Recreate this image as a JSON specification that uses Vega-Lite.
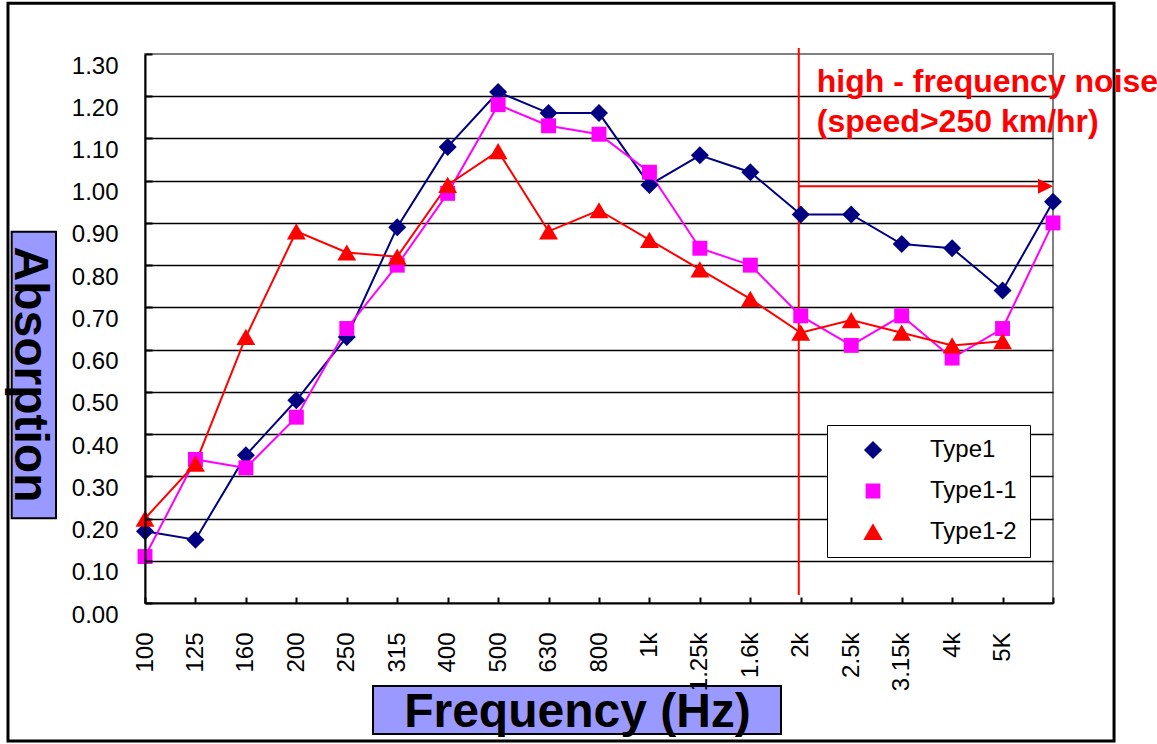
{
  "$schema": "https://vega.github.io/schema/vega-lite/v6.json",
  "width": 908,
  "height": 549,
  "autosize": {"type": "none"},
  "padding": {"left": 145, "top": 54, "right": 104, "bottom": 141},
  "background": "white",
  "config": {
    "font": "Liberation Sans",
    "view": {"stroke": "#808080", "strokeWidth": 2}
  },
  "datasets": {
    "absorption": [
      {"i": 0, "series": "Type1", "a": 0.17},
      {"i": 1, "series": "Type1", "a": 0.15},
      {"i": 2, "series": "Type1", "a": 0.35},
      {"i": 3, "series": "Type1", "a": 0.48},
      {"i": 4, "series": "Type1", "a": 0.63},
      {"i": 5, "series": "Type1", "a": 0.89},
      {"i": 6, "series": "Type1", "a": 1.08},
      {"i": 7, "series": "Type1", "a": 1.21},
      {"i": 8, "series": "Type1", "a": 1.16},
      {"i": 9, "series": "Type1", "a": 1.16},
      {"i": 10, "series": "Type1", "a": 0.99},
      {"i": 11, "series": "Type1", "a": 1.06},
      {"i": 12, "series": "Type1", "a": 1.02},
      {"i": 13, "series": "Type1", "a": 0.92},
      {"i": 14, "series": "Type1", "a": 0.92},
      {"i": 15, "series": "Type1", "a": 0.85},
      {"i": 16, "series": "Type1", "a": 0.84},
      {"i": 17, "series": "Type1", "a": 0.74},
      {"i": 18, "series": "Type1", "a": 0.95},
      {"i": 0, "series": "Type1-1", "a": 0.11},
      {"i": 1, "series": "Type1-1", "a": 0.34},
      {"i": 2, "series": "Type1-1", "a": 0.32},
      {"i": 3, "series": "Type1-1", "a": 0.44},
      {"i": 4, "series": "Type1-1", "a": 0.65},
      {"i": 5, "series": "Type1-1", "a": 0.80},
      {"i": 6, "series": "Type1-1", "a": 0.97},
      {"i": 7, "series": "Type1-1", "a": 1.18},
      {"i": 8, "series": "Type1-1", "a": 1.13},
      {"i": 9, "series": "Type1-1", "a": 1.11},
      {"i": 10, "series": "Type1-1", "a": 1.02},
      {"i": 11, "series": "Type1-1", "a": 0.84},
      {"i": 12, "series": "Type1-1", "a": 0.80},
      {"i": 13, "series": "Type1-1", "a": 0.68},
      {"i": 14, "series": "Type1-1", "a": 0.61},
      {"i": 15, "series": "Type1-1", "a": 0.68},
      {"i": 16, "series": "Type1-1", "a": 0.58},
      {"i": 17, "series": "Type1-1", "a": 0.65},
      {"i": 18, "series": "Type1-1", "a": 0.90},
      {"i": 0, "series": "Type1-2", "a": 0.20},
      {"i": 1, "series": "Type1-2", "a": 0.33},
      {"i": 2, "series": "Type1-2", "a": 0.63},
      {"i": 3, "series": "Type1-2", "a": 0.88},
      {"i": 4, "series": "Type1-2", "a": 0.83},
      {"i": 5, "series": "Type1-2", "a": 0.82},
      {"i": 6, "series": "Type1-2", "a": 0.99},
      {"i": 7, "series": "Type1-2", "a": 1.07},
      {"i": 8, "series": "Type1-2", "a": 0.88},
      {"i": 9, "series": "Type1-2", "a": 0.93},
      {"i": 10, "series": "Type1-2", "a": 0.86},
      {"i": 11, "series": "Type1-2", "a": 0.79},
      {"i": 12, "series": "Type1-2", "a": 0.72},
      {"i": 13, "series": "Type1-2", "a": 0.64},
      {"i": 14, "series": "Type1-2", "a": 0.67},
      {"i": 15, "series": "Type1-2", "a": 0.64},
      {"i": 16, "series": "Type1-2", "a": 0.61},
      {"i": 17, "series": "Type1-2", "a": 0.62}
    ]
  },
  "layer": [
    {
      "data": {"values": [{}]},
      "mark": {"type": "rect", "filled": false, "stroke": "black", "strokeWidth": 3},
      "encoding": {
        "x": {"datum": -2.716, "type": "quantitative", "scale": {"domain": [0, 18]}},
        "x2": {"datum": 19.21},
        "y": {"datum": 1.42, "type": "quantitative", "scale": {"domain": [0, 1.3]}, "axis": null},
        "y2": {"datum": -0.327}
      }
    },
    {
      "data": {"values": [{}]},
      "mark": {"type": "rect", "fill": "#9999FF", "stroke": "black", "strokeWidth": 2},
      "encoding": {
        "x": {"datum": -2.643, "type": "quantitative", "scale": {"domain": [0, 18]}},
        "x2": {"datum": -1.764},
        "y": {"datum": 0.879, "type": "quantitative", "scale": {"domain": [0, 1.3]}, "axis": null},
        "y2": {"datum": 0.2006}
      }
    },
    {
      "data": {"values": [{}]},
      "mark": {"type": "rect", "fill": "#9999FF", "stroke": "black", "strokeWidth": 2},
      "encoding": {
        "x": {"datum": 4.52, "type": "quantitative", "scale": {"domain": [0, 18]}},
        "x2": {"datum": 12.608},
        "y": {"datum": -0.1965, "type": "quantitative", "scale": {"domain": [0, 1.3]}, "axis": null},
        "y2": {"datum": -0.31}
      }
    },
    {
      "data": {"values": [{}]},
      "mark": {"type": "rule", "color": "#FF0000", "strokeWidth": 2},
      "encoding": {
        "x": {"datum": 12.96, "type": "quantitative", "scale": {"domain": [0, 18]}},
        "y": {"datum": 0.019, "type": "quantitative", "scale": {"domain": [0, 1.3]}, "axis": null},
        "y2": {"datum": 1.314}
      }
    },
    {
      "data": {"values": [{}]},
      "mark": {"type": "rule", "color": "#FF0000", "strokeWidth": 2},
      "encoding": {
        "x": {"datum": 12.96, "type": "quantitative", "scale": {"domain": [0, 18]}},
        "x2": {"datum": 17.8},
        "y": {"datum": 0.987, "type": "quantitative", "scale": {"domain": [0, 1.3]}, "axis": null}
      }
    },
    {
      "data": {"values": [{}]},
      "mark": {"type": "point", "filled": true, "color": "#FF0000", "shape": "M-2,-1L0,0L-2,1Z", "size": 225, "opacity": 1},
      "encoding": {
        "x": {"datum": 18, "type": "quantitative", "scale": {"domain": [0, 18]}},
        "y": {"datum": 0.987, "type": "quantitative", "scale": {"domain": [0, 1.3]}, "axis": null}
      }
    },
    {
      "data": {"name": "absorption"},
      "mark": {"type": "line", "strokeWidth": 2},
      "encoding": {
        "x": {
          "field": "i", "type": "quantitative", "scale": {"domain": [0, 18]},
          "axis": {
            "orient": "bottom",
            "values": [0, 1, 2, 3, 4, 5, 6, 7, 8, 9, 10, 11, 12, 13, 14, 15, 16, 17, 18],
            "labelExpr": "['100','125','160','200','250','315','400','500','630','800','1k','1.25k','1.6k','2k','2.5k','3.15k','4k','5K',''][datum.value]",
            "labelAngle": 270, "labelFontSize": 24, "labelPadding": 35, "labelColor": "black",
            "labelOverlap": false, "labelFlush": false,
            "tickSize": -6, "tickColor": "black", "tickWidth": 2,
            "domainColor": "black", "domainWidth": 2, "grid": false,
            "title": "Frequency (Hz)", "titleFontSize": 48, "titleFontWeight": "bold", "titleColor": "black",
            "titleX": 432, "titleY": 123, "titleAlign": "center", "titleBaseline": "alphabetic",
            "zindex": 1
          }
        },
        "y": {
          "field": "a", "type": "quantitative", "scale": {"domain": [0, 1.3]},
          "axis": {
            "orient": "left",
            "values": [0, 0.1, 0.2, 0.3, 0.4, 0.5, 0.6, 0.7, 0.8, 0.9, 1.0, 1.1, 1.2, 1.3],
            "format": ".2f", "labelFontSize": 24, "labelBaseline": "top", "labelPadding": 34, "labelColor": "black",
            "tickSize": -7, "tickColor": "black", "tickWidth": 2,
            "domainColor": "black", "domainWidth": 2, "grid": false,
            "title": "Absorption", "titleFontSize": 48, "titleFontWeight": "bold", "titleColor": "black",
            "titleAngle": 90, "titleX": -131, "titleY": 320, "titleAlign": "center", "titleBaseline": "alphabetic",
            "zindex": 1
          }
        },
        "color": {
          "field": "series", "type": "nominal",
          "scale": {"domain": ["Type1", "Type1-1", "Type1-2"], "range": ["#000080", "#FF00FF", "#FF0000"]}
        },
        "detail": {"field": "series"}
      }
    },
    {
      "data": {"name": "absorption"},
      "mark": {"type": "point", "filled": true, "opacity": 1, "size": 324},
      "encoding": {
        "x": {"field": "i", "type": "quantitative", "scale": {"domain": [0, 18]}},
        "y": {
          "field": "a", "type": "quantitative", "scale": {"domain": [0, 1.3]},
          "axis": {
            "orient": "right",
            "values": [0.1, 0.2, 0.3, 0.4, 0.5, 0.6, 0.7, 0.8, 0.9, 1.0, 1.1, 1.2],
            "grid": true, "gridColor": "black", "gridWidth": 1.5, "gridOpacity": 1,
            "domain": false, "labels": false, "ticks": false, "title": null, "zindex": 0
          }
        },
        "color": {
          "field": "series", "type": "nominal",
          "scale": {"domain": ["Type1", "Type1-1", "Type1-2"], "range": ["#000080", "#FF00FF", "#FF0000"]},
          "legend": {
            "orient": "none", "legendX": 682, "legendY": 371, "title": null,
            "fillColor": "white", "strokeColor": "black", "padding": 13,
            "labelFontSize": 24, "labelColor": "black", "labelOffset": 45,
            "symbolSize": 256, "symbolOffset": 21, "rowPadding": 17
          }
        },
        "shape": {
          "field": "series", "type": "nominal",
          "scale": {
            "domain": ["Type1", "Type1-1", "Type1-2"],
            "range": ["M-1,0L0,-1L1,0L0,1Z", "M-0.83,-0.83H0.83V0.83H-0.83Z", "M0,-0.9L1.05,0.9H-1.05Z"]
          }
        }
      }
    },
    {
      "data": {"values": [{}]},
      "mark": {
        "type": "text", "text": ["high - frequency noise", "(speed>250 km/hr)"],
        "align": "left", "baseline": "alphabetic", "dx": 16, "dy": 38, "lineHeight": 40,
        "fontSize": 32, "fontWeight": "bold", "color": "#FF0000"
      },
      "encoding": {
        "x": {"datum": 13, "type": "quantitative", "scale": {"domain": [0, 18]}},
        "y": {"datum": 1.3, "type": "quantitative", "scale": {"domain": [0, 1.3]}, "axis": null}
      }
    }
  ],
  "resolve": {"axis": {"y": "independent"}}
}
